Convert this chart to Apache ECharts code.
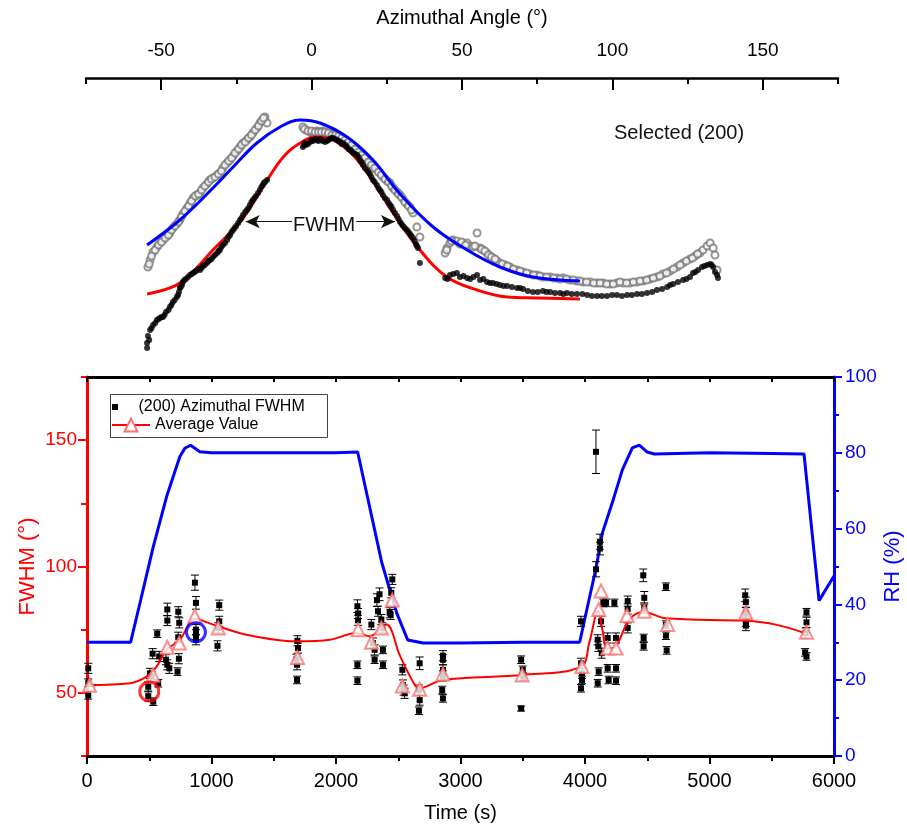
<!DOCTYPE html>
<html>
<head>
<meta charset="utf-8">
<script src="https://cdn.jsdelivr.net/npm/echarts@6/dist/echarts.min.js"></script>
<style>html,body{margin:0;padding:0;background:#fff;}#c{width:907px;height:831px;}</style>
</head>
<body>
<div id="c"></div>
<script>
// ---------- Top panel: azimuthal intensity profile (arbitrary units) ----------
const angleTicks = [-50, 0, 50, 100, 150];
const blackDots = [[-54.7,10],[-54.7,15],[-54.4,22],[-53.7,28],[-52.7,33],[-51.4,38],[-50.4,40],[-49.4,41],[-48.4,46],[-47.1,51],[-46.1,56],[-44.8,61],[-44.1,66],[-43.8,70],[-43.1,73],[-42.8,76],[-41.8,79],[-40.4,83],[-39.4,85],[-38.4,87],[-37.1,88],[-36.1,92],[-34.8,95],[-33.8,98],[-32.8,101],[-31.4,105],[-30.5,108],[-29.5,113],[-28.1,118],[-27.1,123],[-26.1,128],[-25.1,132],[-23.8,138],[-22.8,143],[-21.5,148],[-20.5,153],[-19.5,158],[-18.5,162],[-17.2,168],[-16.2,173],[-15.5,176],[-14.8,178],
[-2.9,211],[-2.2,215],[-1.9,213],[-0.5,216],[0.5,217],[1.8,218],[2.8,219],[3.8,217],[5.1,217],[6.1,219],[7.1,220],[8.5,218],[9.5,216],[10.5,215],[11.8,211],[12.8,208],[13.8,205],[15.1,203],[16.1,198],[17.1,193],[18.4,188],[19.4,184],[20.4,178],[21.7,173],[22.7,168],[23.7,163],[25.1,158],[26.1,153],[27.1,148],[28.4,142],[29.4,136],[30.4,132],[31.7,128],[32.7,124],[33.7,120],[34.7,114],[35.4,110],[36.0,95],
[44.4,80],[46.0,83],[48.3,85],[49.3,81],[51.7,80],[55.0,83],[56.0,78],[58.3,76],[60.3,75],[62.6,73],[65.0,72],[68.3,70],[70.3,69],[73.6,66],[76.9,67],[79.3,66],[82.6,65],[84.9,65],[88.2,64],[91.6,63],[94.9,62],[98.2,62],[101.5,63],[104.9,63],[108.2,64],[111.5,65],[114.8,68],[118.2,71],[120.2,74],[123.5,78],[125.8,81],[126.8,85],[128.5,88],[129.8,91],[131.5,93],[132.5,94],[133.5,91],[134.1,86],[134.8,83],[135.1,80],
[-54.0,18],[-53.2,30],[-52.0,35],[-50.9,39],[-49.9,41],[-48.9,43],[-47.6,48],[-46.6,53],[-45.5,58],[-44.4,63],[-43.5,71],[-42.3,78],[-41.1,81],[-39.9,84],[-38.9,86],[-37.7,89],[-36.6,90],[-35.5,93],[-34.3,97],[-33.3,99],[-32.1,103],[-30.9,107],[-30.0,111],[-28.8,115],[-27.6,121],[-26.6,126],[-25.6,130],[-24.4,135],[-23.3,140],[-22.1,146],[-21.0,150],[-20.0,156],[-19.0,160],[-17.8,165],[-16.7,171],[-15.9,175],
[-2.5,213],[-1.2,214],[0,218],[1.2,219],[2.3,217],[3.3,218],[4.5,216],[5.6,218],[6.6,220],[7.8,219],[9.0,217],[10.0,214],[11.2,213],[12.3,209],[13.3,207],[14.5,204],[15.6,201],[16.6,196],[17.7,190],[18.9,186],[19.9,181],[21.0,176],[22.2,170],[23.2,166],[24.4,160],[25.6,155],[26.6,151],[27.7,145],[28.9,139],[29.9,134],[31.0,130],[32.2,126],[33.2,122],[34.2,117],[35.0,112],
[45.2,79],[47.1,84],[50.5,82],[52.7,79],[53.8,81],[57.1,79],[59.3,75],[61.5,74],[63.8,72],[66.6,71],[69.3,70],[71.9,67],[75.2,66],[78.1,66],[80.9,65],[83.7,64],[86.5,64],[90.0,64],[93.2,62],[96.5,62],[99.9,63],[103.2,62],[106.5,63],[109.8,64],[113.2,66],[116.5,69],[119.2,73],[121.8,76],[124.6,79],[127.6,86],[130.6,92],[133.0,93]];
const openDots = [[-54.4,91],[-53.7,98],[-52.7,106],[-51.4,111],[-50.4,115],[-49.4,118],[-48.0,122],[-47.1,125],[-46.1,130],[-44.8,134],[-43.8,138],[-42.8,144],[-41.4,150],[-40.4,155],[-39.4,160],[-38.1,163],[-37.1,165],[-36.1,170],[-34.8,174],[-33.8,178],[-32.8,180],[-31.4,183],[-30.5,185],[-29.5,190],[-28.1,195],[-27.1,198],[-26.1,202],[-24.8,207],[-23.8,211],[-22.8,215],[-21.5,218],[-20.5,221],[-19.5,225],[-18.2,230],[-17.2,235],[-16.2,238],[-15.5,241],[-14.8,235],
[-2.9,231],[-1.9,228],[-0.5,226],[0.5,226],[1.8,227],[2.8,225],[3.8,227],[5.1,225],[6.1,224],[7.5,224],[8.5,222],[9.5,221],[10.5,219],[11.8,217],[12.8,215],[13.8,211],[15.1,208],[16.1,205],[17.1,201],[18.4,198],[19.4,195],[20.4,192],[21.7,188],[22.7,185],[23.7,181],[25.1,177],[26.1,175],[27.1,170],[28.4,166],[29.4,163],[30.4,159],[31.7,154],[32.7,151],[33.7,145],[35.0,131],[36.0,121],
[44.4,105],[45.0,110],[46.0,115],[47.0,118],[48.3,117],[49.3,114],[50.3,115],[51.7,115],[52.7,112],[53.7,111],[55.0,125],[56.0,110],[57.0,108],[58.3,105],[59.3,102],[60.3,100],[61.6,97],[62.6,95],[64.3,93],[65.9,91],[68.3,88],[70.3,86],[72.6,84],[74.9,83],[76.9,81],[79.3,81],[81.6,80],[83.6,80],[85.9,78],[88.2,77],[90.2,76],[92.6,76],[94.9,75],[96.9,75],[99.2,74],[101.5,75],[103.5,75],[105.9,75],[108.2,76],[110.2,77],[112.5,79],[114.8,81],[116.8,84],[119.2,87],[121.5,91],[123.5,95],[125.8,99],[127.5,102],[129.1,105],[130.1,108],[131.5,112],[132.5,115],[133.5,110],[134.1,103],[134.8,88],
[-54.0,94],[-53.2,102],[-52.0,108],[-50.9,113],[-49.9,116],[-48.7,120],[-47.6,123],[-46.6,128],[-45.5,132],[-44.3,136],[-43.3,141],[-42.1,147],[-40.9,152],[-39.9,157],[-38.7,162],[-37.6,164],[-36.6,168],[-35.5,172],[-34.3,176],[-33.3,179],[-32.1,181],[-31.0,184],[-30.0,187],[-28.8,193],[-27.6,197],[-26.6,200],[-25.5,205],[-24.3,209],[-23.3,213],[-22.1,216],[-21.0,220],[-20.0,223],[-18.8,228],[-17.7,232],[-16.7,237],[-16.0,240],
[-2.4,229],[-1.2,227],[0,227],[1.2,226],[2.3,226],[3.3,226],[4.5,226],[5.6,225],[6.8,223],[8.0,223],[9.0,222],[10.0,220],[11.2,218],[12.3,216],[13.3,213],[14.5,209],[15.6,206],[16.6,203],[17.7,200],[18.9,196],[19.9,193],[21.0,190],[22.2,186],[23.2,183],[24.4,179],[25.6,176],[26.6,172],[27.7,168],[28.9,164],[29.9,161],[31.0,156],[32.2,152],[33.2,148],
[44.9,108],[46.5,117],[49.8,116],[51.2,113],[54.3,112],[56.5,109],[57.6,107],[58.8,103],[59.8,101],[61.0,99],[63.4,94],[65.1,92],[67.1,89],[69.3,87],[71.5,85],[73.8,83],[75.9,82],[78.1,81],[80.5,80],[82.6,79],[84.7,79],[87.0,78],[89.2,77],[91.4,76],[93.8,75],[95.9,75],[98.1,74],[100.3,74],[102.5,76],[104.7,75],[107.0,76],[109.2,77],[111.4,78],[113.6,80],[115.8,82],[118.0,85],[120.3,89],[122.5,93],[124.6,97],[126.6,100],[128.3,104]];
const redFit = [[-54.7,64],[-43.8,75],[-32.8,108],[-22.8,140],[-14.8,178],[-8.2,205],[-1.5,219],[1.1,221],[8.4,216],[17.1,191],[27.1,145],[36.0,108],[45.0,81],[55.0,68],[65.0,61],[75.0,60],[89.2,59]];
const blueFit = [[-54.7,113],[-43.8,138],[-32.8,170],[-26.1,191],[-18.2,215],[-10.5,231],[-3.9,238],[2.8,235],[11.8,221],[20.4,198],[29.4,164],[40.4,131],[51.7,108],[62.6,91],[73.6,81],[89.2,77]];
const fwhmArrow = {from: -21.9, to: 27.7, level: 136.3};

// ---------- Bottom panel: FWHM and RH vs time ----------
const fwhmTickLabels = [50, 100, 150];
const fwhmTime = [10,10,10, 492,492,505,519,527,532,564,572,580, 645,645,634,645,661, 733,741,733,738,727, 867,875,875,875,875, 1062,1062,1054,1048, 1690,1695,1682,1687,1687, 2172,2177,2177,2172,2172, 2284,2297,2310,2310,2329,2337,2350,2364,2372,2377,2377,2431,2444,2452,2439, 2533,2538,2543,2551, 2672,2666,2672,2666, 2859,2859,2859,2859,2853,2859, 3487,3500,3500,3487, 3968,3968,3976,3976,3968, 4088,4120,4120,4089,4102,4107,4110,4102,4129,4134,4147, 4169,4236,4182,4249,4182,4249,4190,4249, 4343,4343,4343, 4468,4476,4476,4471,4471, 4650,4650,4650,4656, 5287,5292,5292,5292,5292, 5779,5779,5773,5768,5779];
const fwhmValue = [59.7,54,49, 48.7,52.4,57.7,56.4,65.5,46.5,73.4,53.8,64.4, 83,78.6,63.1,61.1,59.7, 82.1,77.7,72,63.5,58.4, 93.6,85.6,75,73,71, 84.7,78.3,75.7,68.6, 70.6,67.7,63.3,61.1,55.1, 84.3,81.4,78.7,61.1,54.8, 77,69.7,67,63.1,86.7,82.3,89,79,75.7,67,61.1,81.7,89.6,94.9,81, 59.1,53.1,51.1,49.8, 61.7,51.1,47.1,42.9, 64.7,63.1,59.1,56.7,51.1,47.8, 63.1,59.1,56.4,43.8, 78.3,61.7,57.7,55.1,51.8, 145.4,109.8,107.1,98.9,71,68.4,58.4,53.8,78.3,65.7,85.6, 85.6,85.6,71.7,71.7,59.7,59.7,55.1,54.8, 86.3,83.2,75.7, 96.5,87.6,83.6,71.7,68.4, 92,77,72.6,66.8, 88.6,85.9,81.7,78.3,76.6, 81.9,77.9,73.7,66,64.4];
const fwhmErr = [2,1.5,1.5, 2,2,2,2,2,1.5,1.5,1.5,2, 2.5,2,2,2,2, 2,2,2,2,1.5, 3,2.5,2,2,2, 2,2,2,2, 2,2,2,2,1.5, 2.5,2,2,1.5,1.5, 2,2,2,1.5,2.5,2,2.5,2,2,1.5,1.5,2,2,2,2, 2,2,2,2, 2.5,2,2,1.5, 2,2,2,2,1.5,1.5, 1.5,1.5,1.5,1, 2,2,2,1.5,1.5, 8.6,3,2.5,3,2,2,1.5,1.5,2,2,1.5, 1.5,1.5,2,2,1.5,1.5,1.5,1.5, 2,2,2, 2.5,2.5,2,1.5,1.5, 1.5,1.5,1.5,1.5, 2.5,2,2,2,2, 1.5,2,2,1.5,1.5];
const avgLineTime = [0,345,479,559,639,746,866,1014,1281,1682,1950,2163,2270,2404,2511,2618,2665,2859,3500,3968,4035,4105,4140,4178,4249,4356,4470,4650,5290,5533,5775];
const avgLineValue = [53.1,53.8,56.4,60.4,67,71,79.3,77,73,70.4,71,73.7,72.4,77,65,54.4,51.8,55.1,57.1,60.4,70,82.5,75,67.5,68.5,79,82,79.5,78.5,77,73.5];
const avgTime = [20,530,645,741,866,1054,1690,2177,2284,2364,2452,2533,2672,2859,3495,3976,4110,4129,4182,4249,4337,4476,4664,5292,5779];
const avgValue = [53,57,68,69.7,80.3,75.7,64,75,70,75.7,86.7,52.7,51.4,57.5,57.1,60.4,83,90.3,67.7,67.7,80.6,82.3,77,81.7,74];
const rhTime = [0,350,425,532,639,746,786,832,906,1000,1500,2000,2174,2368,2488,2576,2700,3000,3500,3957,4091,4139,4219,4300,4380,4436,4500,4556,5000,5500,5759,5880,6000];
const rhValue = [30,30,40.3,55.2,68.4,79,81.2,82,80.3,80,80,80,80.2,51,37.7,30.6,29.8,29.8,30,30,50,58.8,66.8,75.5,81.3,82,80.2,79.7,80,79.8,79.7,41,47.5];
const highlightTime = [500, 875];
const highlightValue = [50.5, 74];
const highlightColor = ['#ff0000', '#0000ff'];

const FONT = '"Liberation Sans", Arial, Helvetica, sans-serif';
const zip = (a, b) => a.map((v, i) => [v, b[i]]);

const chart = echarts.init(document.getElementById('c'), null, {renderer: 'canvas'});
const option = {
  animation: false,
  backgroundColor: '#fff',
  textStyle: {fontFamily: FONT},
  grid: [
    {left: 86, right: 69, top: 78, height: 280, outerBoundsMode: 'none', containLabel: false},
    {left: 87, right: 73, top: 377, height: 379, outerBoundsMode: 'none', containLabel: false}
  ],
  xAxis: [
    // ticks from min every 50 (-75, -25, ...) are short; minor ticks (-50, 0, 50, ...) are the long labelled ones
    {gridIndex: 0, type: 'value', position: 'top', min: -75, max: 175, interval: 50,
     name: 'Azimuthal Angle (°)', nameLocation: 'middle', nameGap: 50, nameMoveOverlap: false,
     nameTextStyle: {fontSize: 20, color: '#000', fontFamily: FONT},
     axisLine: {onZero: false, lineStyle: {color: '#000', width: 2.5}},
     axisTick: {inside: true, length: 6, lineStyle: {color: '#000', width: 2}},
     minorTick: {show: true, splitNumber: 2, length: 12, lineStyle: {color: '#000', width: 2}},
     axisLabel: {customValues: angleTicks, fontSize: 19, color: '#000', margin: 18, fontFamily: FONT,
                 formatter: v => String(v)},
     splitLine: {show: false}, minorSplitLine: {show: false}},
    {gridIndex: 1, type: 'value', position: 'bottom', min: 0, max: 6000, interval: 1000,
     name: 'Time (s)', nameLocation: 'middle', nameGap: 47, nameMoveOverlap: false,
     nameTextStyle: {fontSize: 20, color: '#000', fontFamily: FONT},
     axisLine: {onZero: false, lineStyle: {color: '#000', width: 3}},
     axisTick: {length: 8, lineStyle: {color: '#000', width: 2}},
     minorTick: {show: true, splitNumber: 2, length: 5, lineStyle: {color: '#000', width: 2}},
     axisLabel: {fontSize: 20, color: '#000', margin: 15, fontFamily: FONT, formatter: v => String(v)},
     splitLine: {show: false}, minorSplitLine: {show: false}},
    {gridIndex: 1, type: 'value', position: 'top', min: 0, max: 6000, interval: 500,
     axisLine: {onZero: false, lineStyle: {color: '#000', width: 3}},
     axisTick: {inside: true, length: 5, lineStyle: {color: '#000', width: 2}},
     axisLabel: {show: false}, splitLine: {show: false}}
  ],
  yAxis: [
    {gridIndex: 0, type: 'value', min: 0, max: 280, show: false},
    {gridIndex: 1, type: 'value', position: 'left', min: 25, max: 175, interval: 50,
     name: 'FWHM (°)', nameLocation: 'middle', nameGap: 48, nameRotate: 90, nameMoveOverlap: false,
     nameTextStyle: {fontSize: 22, color: '#ff0000', fontFamily: FONT},
     axisLine: {onZero: false, lineStyle: {color: '#ff0000', width: 3}},
     axisTick: {length: 6, lineStyle: {color: '#ff0000', width: 2}},
     minorTick: {show: true, splitNumber: 2, length: 9, lineStyle: {color: '#ff0000', width: 2}},
     axisLabel: {customValues: fwhmTickLabels, fontSize: 19, color: '#ff0000', margin: 10, fontFamily: FONT},
     splitLine: {show: false}, minorSplitLine: {show: false}},
    {gridIndex: 1, type: 'value', position: 'right', min: 0, max: 100, interval: 20,
     name: 'RH (%)', nameLocation: 'middle', nameGap: 48, nameRotate: 90, nameMoveOverlap: false,
     nameTextStyle: {fontSize: 22, color: '#0000ff', fontFamily: FONT},
     axisLine: {onZero: false, lineStyle: {color: '#0000ff', width: 3}},
     axisTick: {length: 8, lineStyle: {color: '#0000ff', width: 2}},
     minorTick: {show: true, splitNumber: 2, length: 5, lineStyle: {color: '#0000ff', width: 2}},
     axisLabel: {fontSize: 19, color: '#0000ff', margin: 11, fontFamily: FONT},
     splitLine: {show: false}, minorSplitLine: {show: false}}
  ],
  legend: [
    {data: [{name: '(200) Azimuthal FWHM', icon: 'path://M0,0h10v10h-10z'}],
     left: 112, top: 399, orient: 'vertical', padding: 0, itemWidth: 37, itemHeight: 6,
     selectedMode: false, textStyle: {fontSize: 16, color: '#000', fontFamily: FONT}},
    {data: ['Average Value'],
     left: 111, top: 417, orient: 'vertical', padding: 0, itemWidth: 38, itemHeight: 16,
     selectedMode: false, textStyle: {fontSize: 16, color: '#000', fontFamily: FONT}}
  ],
  graphic: [
    {type: 'rect', left: 110, top: 394, shape: {width: 217, height: 43},
     style: {fill: 'transparent', stroke: '#444', lineWidth: 1}, z: 100},
    {type: 'text', left: 614, top: 123, style: {text: 'Selected (200)', fontSize: 20, fill: '#111', fontFamily: FONT}, z: 100},
    {type: 'text', left: 292, top: 215, style: {text: 'FWHM', fontSize: 20, fill: '#111', fontFamily: FONT,
      backgroundColor: '#fff', padding: [0, 1]}, z: 100}
  ],
  series: [
    {name: 'open', type: 'scatter', xAxisIndex: 0, yAxisIndex: 0, data: openDots,
     symbol: 'emptyCircle', symbolSize: 7, itemStyle: {color: '#7a7a7a', borderWidth: 1}, silent: true, z: 2},
    {name: 'redfit', type: 'line', xAxisIndex: 0, yAxisIndex: 0, data: redFit, smooth: 0.4,
     showSymbol: false, symbol: 'none', lineStyle: {color: '#ff0000', width: 3}, silent: true, z: 3},
    {name: 'bluefit', type: 'line', xAxisIndex: 0, yAxisIndex: 0, data: blueFit, smooth: 0.4,
     showSymbol: false, symbol: 'none', lineStyle: {color: '#0000ff', width: 3}, silent: true, z: 3},
    {name: 'black', type: 'scatter', xAxisIndex: 0, yAxisIndex: 0, data: blackDots,
     symbol: 'circle', symbolSize: 6, itemStyle: {color: '#000'}, silent: true, z: 4,
     markLine: {silent: true, symbol: ['arrow', 'arrow'], symbolSize: [10, 14],
       lineStyle: {color: '#111', width: 1, type: 'solid'}, label: {show: false},
       data: [[{coord: [fwhmArrow.from, fwhmArrow.level]}, {coord: [fwhmArrow.to, fwhmArrow.level]}]]}},
    {name: 'RH', type: 'line', xAxisIndex: 1, yAxisIndex: 2, data: zip(rhTime, rhValue),
     showSymbol: false, symbol: 'none', lineStyle: {color: '#0000ff', width: 3}, silent: true, z: 2},
    {name: '(200) Azimuthal FWHM', type: 'custom', xAxisIndex: 1, yAxisIndex: 1,
     data: fwhmTime.map((t, i) => [t, fwhmValue[i], fwhmErr[i]]),
     encode: {x: 0, y: 1}, itemStyle: {color: '#000'}, silent: true, z: 3,
     renderItem: function (params, api) {
       const x = api.value(0), y = api.value(1), e = api.value(2);
       const p = api.coord([x, y]);
       const hi = api.coord([x, y + e]);
       const lo = api.coord([x, y - e]);
       const cw = 4;
       const st = {stroke: '#000', lineWidth: 1};
       return {type: 'group', children: [
         {type: 'line', shape: {x1: p[0], y1: hi[1], x2: p[0], y2: lo[1]}, style: st},
         {type: 'line', shape: {x1: p[0] - cw, y1: hi[1], x2: p[0] + cw, y2: hi[1]}, style: st},
         {type: 'line', shape: {x1: p[0] - cw, y1: lo[1], x2: p[0] + cw, y2: lo[1]}, style: st},
         {type: 'rect', shape: {x: p[0] - 3, y: p[1] - 3, width: 6, height: 6}, style: {fill: '#000'}}
       ]};
     }},
    {name: 'Average Value', type: 'line', xAxisIndex: 1, yAxisIndex: 1, data: zip(avgLineTime, avgLineValue),
     smooth: 0.35, showSymbol: false, symbol: 'emptyTriangle', symbolSize: 13,
     itemStyle: {color: '#ff6f6f'}, lineStyle: {color: '#ff0000', width: 2}, silent: true, z: 4},
    {name: 'avgMarkers', type: 'scatter', xAxisIndex: 1, yAxisIndex: 1, data: zip(avgTime, avgValue),
     symbol: 'emptyTriangle', symbolSize: 13, itemStyle: {color: '#ff6f6f', borderWidth: 1}, silent: true, z: 5},
    {name: 'highlight', type: 'scatter', xAxisIndex: 1, yAxisIndex: 1,
     data: highlightTime.map((t, i) => ({value: [t, highlightValue[i]],
       itemStyle: {color: 'transparent', borderColor: highlightColor[i], borderWidth: 3}})),
     symbol: 'circle', symbolSize: 19, silent: true, z: 6}
  ]
};
chart.setOption(option);
</script>
</body>
</html>
